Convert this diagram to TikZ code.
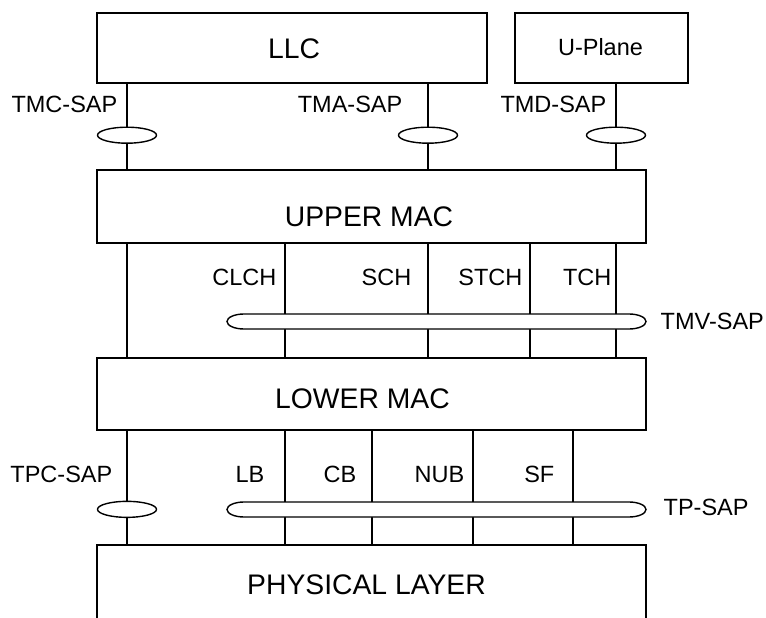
\documentclass[tikz,border=0pt]{standalone}
\usepackage{fontspec}
\setmainfont{Liberation Sans}
\usetikzlibrary{shapes.geometric}

\tikzset{
  layer/.style={draw, line width=1.4pt, inner sep=0pt, outer sep=0pt},
  layertext/.style={anchor=base, inner sep=0pt, font=\fontsize{28.3}{30}\selectfont},
  uptext/.style={anchor=base, inner sep=0pt, font=\fontsize{23.5}{26}\selectfont},
  saptext/.style={anchor=east, inner sep=0pt, font=\fontsize{23.5}{26}\selectfont},
  sap/.style={ellipse, draw, fill=white, line width=1.4pt, minimum width=59pt, minimum height=16pt, inner sep=0pt},
  sapbar/.style={minimum width=419pt, minimum height=15pt, inner sep=0pt, outer sep=0pt},
}

\begin{document}
\begin{tikzpicture}[x=1pt, y=-1pt, line width=1.4pt]
  \useasboundingbox (0,0) rectangle (766,618);

  % layers
  \node[layer, minimum width=390pt, minimum height=70pt] (llc) at (292,48) {};
  \node[layer, minimum width=173pt, minimum height=70pt] (uplane) at (601.5,48) {};
  \node[layer, minimum width=549pt, minimum height=73pt] (uppermac) at (371.5,206.5) {};
  \node[layer, minimum width=549pt, minimum height=72pt] (lowermac) at (371.5,394) {};
  \node[minimum width=549pt, minimum height=80pt, inner sep=0pt, outer sep=0pt] (phy) at (371.5,585) {};
  \draw (phy.south west) -- (phy.north west) -- (phy.north east) -- (phy.south east);

  % layer names
  \node[layertext] (llcname) at (294,59) {LLC};
  \node[uptext] (uplanename) at (600.5,56) {U-Plane};
  \node[layertext] (uppername) at (369,226) {UPPER MAC};
  \node[layertext] (lowername) at (362.5,408) {LOWER MAC};
  \node[layertext] (phyname) at (366.5,594) {PHYSICAL LAYER};

  % LLC and U-Plane down to upper MAC
  \foreach \x/\nm/\lab/\g in {127/tmc/TMC-SAP/9pt, 428/tma/TMA-SAP/25pt}
    \draw (llc.south -| \x,0) -- node[saptext, pos=.25, xshift=-\g] (\nm lbl) {\lab}
      node[sap, pos=.6] (\nm) {} (uppermac.north -| \x,0);
  \draw (uplane.south -| 616,0) -- node[saptext, pos=.25, xshift=-9pt] (tmdlbl) {TMD-SAP}
    node[sap, pos=.6] (tmd) {} (uppermac.north -| 616,0);

  % upper MAC down to lower MAC
  \draw (uppermac.south -| 127,0) -- (lowermac.north -| 127,0);
  \foreach \x/\lab/\g in {285/CLCH/8pt, 428/SCH/16pt, 530/STCH/7pt, 616/TCH/4pt}
    \draw (uppermac.south -| \x,0) -- node[saptext, pos=.3, xshift=-\g] (\lab) {\lab}
      (lowermac.north -| \x,0);

  % lower MAC down to physical layer
  \draw (lowermac.south -| 127,0) -- node[saptext, pos=.39, xshift=-14pt] (tpclbl) {TPC-SAP}
    node[sap, pos=.69] (tpc) {} (phy.north -| 127,0);
  \foreach \x/\lab/\g in {285/LB/20pt, 372/CB/15pt, 473/NUB/8pt, 573/SF/18pt}
    \draw (lowermac.south -| \x,0) -- node[saptext, pos=.39, xshift=-\g] (\lab) {\lab}
      (phy.north -| \x,0);

  % shared SAPs
  \foreach \nm/\y in {tmv/321.5, tp/509.5} {
    \node[sapbar] (\nm) at (436.5,\y) {};
    \filldraw[fill=white] ([xshift=17pt]\nm.north west) -- ([xshift=-17pt]\nm.north east)
      arc[start angle=90, end angle=-90, x radius=17pt, y radius=7.5pt]
      -- ([xshift=17pt]\nm.south west)
      arc[start angle=270, end angle=90, x radius=17pt, y radius=7.5pt] -- cycle;
  }
  \node[saptext, anchor=west, xshift=14pt] (tmvlbl) at (tmv.east) {TMV-SAP};
  \node[saptext, anchor=west, xshift=17pt, yshift=2.5pt] (tplbl) at (tp.east) {TP-SAP};
\end{tikzpicture}
\end{document}
